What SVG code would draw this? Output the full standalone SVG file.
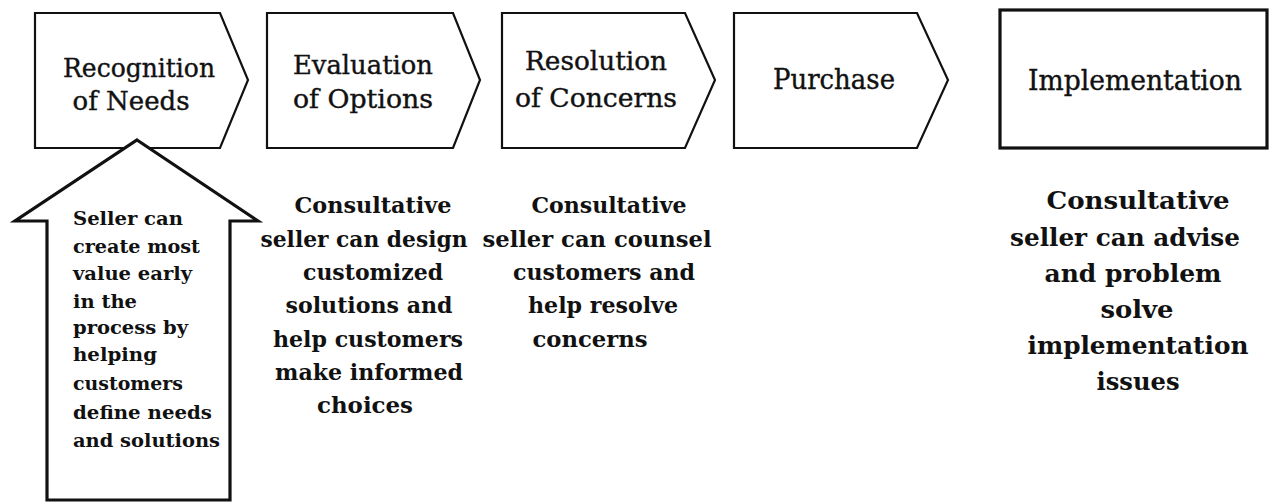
<svg xmlns="http://www.w3.org/2000/svg" width="1274" height="502" viewBox="0 0 1274 502">
<style>
.shape{fill:#fff;stroke:#111;stroke-width:2.2;stroke-linejoin:miter}
.thick{stroke-width:3.2}
.lbl{font-family:"DejaVu Serif","Liberation Serif",serif;font-size:26px;fill:#111;stroke:#111;stroke-width:0.4;text-anchor:middle}
.lbl2{font-family:"DejaVu Serif","Liberation Serif",serif;font-size:28px;fill:#111;stroke:#111;stroke-width:0.4;text-anchor:middle}
.note{font-family:"DejaVu Serif","Liberation Serif",serif;font-weight:bold;font-size:22px;fill:#111;text-anchor:middle}
.note2{font-family:"DejaVu Serif","Liberation Serif",serif;font-weight:bold;font-size:24px;fill:#111;text-anchor:middle}
.arr{font-family:"DejaVu Serif","Liberation Serif",serif;font-weight:bold;font-size:19px;fill:#111}
</style>
<rect width="1274" height="502" fill="#fff"/>
<g id="recognition">
<polygon class="shape" points="35,13 220,13 248,80 220,148 35,148"/>
<text class="lbl" x="139" y="77" textLength="152" lengthAdjust="spacingAndGlyphs">Recognition</text>
<text class="lbl" x="131" y="110" textLength="117" lengthAdjust="spacingAndGlyphs">of Needs</text>
</g>
<g id="evaluation">
<polygon class="shape" points="267,13 453,13 480,80 453,148 267,148"/>
<text class="lbl" x="363" y="74" textLength="140" lengthAdjust="spacingAndGlyphs">Evaluation</text>
<text class="lbl" x="363" y="108" textLength="140" lengthAdjust="spacingAndGlyphs">of Options</text>
<text class="note" x="373" y="213" textLength="157" lengthAdjust="spacingAndGlyphs">Consultative</text>
<text class="note" x="364" y="247" textLength="207" lengthAdjust="spacingAndGlyphs">seller can design</text>
<text class="note" x="373" y="280" textLength="140" lengthAdjust="spacingAndGlyphs">customized</text>
<text class="note" x="369" y="313" textLength="167" lengthAdjust="spacingAndGlyphs">solutions and</text>
<text class="note" x="368" y="347" textLength="190" lengthAdjust="spacingAndGlyphs">help customers</text>
<text class="note" x="369" y="380" textLength="188" lengthAdjust="spacingAndGlyphs">make informed</text>
<text class="note" x="365" y="413" textLength="96" lengthAdjust="spacingAndGlyphs">choices</text>
</g>
<g id="resolution">
<polygon class="shape" points="502,13 685,13 715,80 685,148 502,148"/>
<text class="lbl" x="596" y="70" textLength="142" lengthAdjust="spacingAndGlyphs">Resolution</text>
<text class="lbl" x="596" y="107" textLength="162" lengthAdjust="spacingAndGlyphs">of Concerns</text>
<text class="note" x="609" y="213" textLength="155" lengthAdjust="spacingAndGlyphs">Consultative</text>
<text class="note" x="597" y="247" textLength="229" lengthAdjust="spacingAndGlyphs">seller can counsel</text>
<text class="note" x="604" y="280" textLength="182" lengthAdjust="spacingAndGlyphs">customers and</text>
<text class="note" x="603" y="313" textLength="150" lengthAdjust="spacingAndGlyphs">help resolve</text>
<text class="note" x="590" y="347" textLength="115" lengthAdjust="spacingAndGlyphs">concerns</text>
</g>
<g id="purchase">
<polygon class="shape" points="734,13 917,13 948,80 917,148 734,148"/>
<text class="lbl2" x="834" y="89" textLength="122" lengthAdjust="spacingAndGlyphs">Purchase</text>
</g>
<g id="implementation">
<rect class="shape thick" x="1000" y="10" width="267" height="138"/>
<text class="lbl2" x="1135" y="90" textLength="214" lengthAdjust="spacingAndGlyphs">Implementation</text>
<text class="note2" x="1138" y="209" textLength="183" lengthAdjust="spacingAndGlyphs">Consultative</text>
<text class="note2" x="1125" y="246" textLength="230" lengthAdjust="spacingAndGlyphs">seller can advise</text>
<text class="note2" x="1133" y="282" textLength="177" lengthAdjust="spacingAndGlyphs">and problem</text>
<text class="note2" x="1137" y="318" textLength="73" lengthAdjust="spacingAndGlyphs">solve</text>
<text class="note2" x="1138" y="354" textLength="221" lengthAdjust="spacingAndGlyphs">implementation</text>
<text class="note2" x="1138" y="390" textLength="83" lengthAdjust="spacingAndGlyphs">issues</text>
</g>
<g id="value-arrow">
<polygon class="shape thick" points="137,140 258,221 230,221 230,500 47,500 47,221 15,221"/>
<text class="arr" x="73" y="225" textLength="110" lengthAdjust="spacingAndGlyphs">Seller can</text>
<text class="arr" x="73" y="253" textLength="127" lengthAdjust="spacingAndGlyphs">create most</text>
<text class="arr" x="73" y="280" textLength="119" lengthAdjust="spacingAndGlyphs">value early</text>
<text class="arr" x="73" y="308" textLength="64" lengthAdjust="spacingAndGlyphs">in the</text>
<text class="arr" x="73" y="334" textLength="115" lengthAdjust="spacingAndGlyphs">process by</text>
<text class="arr" x="73" y="361" textLength="84" lengthAdjust="spacingAndGlyphs">helping</text>
<text class="arr" x="73" y="390" textLength="110" lengthAdjust="spacingAndGlyphs">customers</text>
<text class="arr" x="73" y="419" textLength="139" lengthAdjust="spacingAndGlyphs">define needs</text>
<text class="arr" x="73" y="447" textLength="147" lengthAdjust="spacingAndGlyphs">and solutions</text>
</g>
<g id="connectors"/>
</svg>
